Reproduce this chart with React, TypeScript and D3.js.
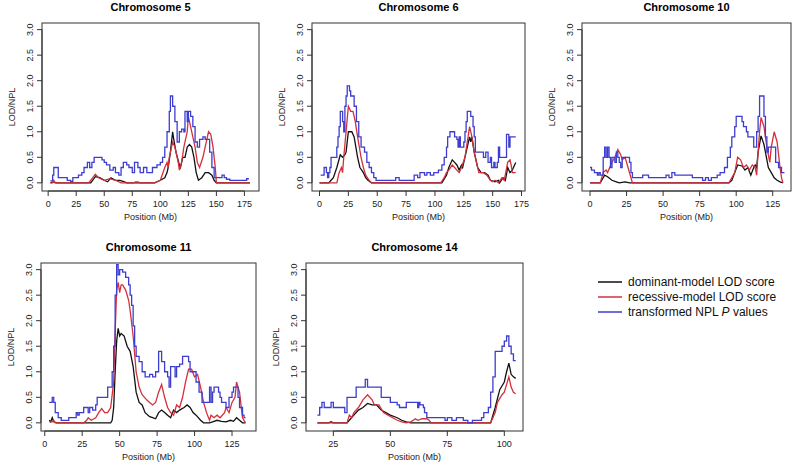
import React from "react";
import * as d3 from "d3";

type Pt = [number, number];

// ---------- Chromosome 5 ----------
const chr5Dominant: Pt[] = [[2,0],[5,0.02],[7,0],[38,0],[42,0.12],[46,0.1],[50,0.05],[53,0.02],[56,0.1],[60,0.05],[64,0.05],[68,0.02],[70,0],[95,0],[100,0.05],[104,0.1],[106,0.2],[107,0.3],[109,0.6],[111,1.0],[112,0.85],[114,0.6],[117,0.35],[118,0.3],[120,0.5],[122,0.5],[124,0.7],[126,0.75],[128,0.7],[130,0.5],[132,0.2],[134,0.05],[137,0.1],[140,0.2],[143,0.2],[146,0.15],[148,0.05],[150,0],[180,0]];
const chr5Recessive: Pt[] = [[2,0],[4,0],[5,0.05],[6,0],[36,0],[38,0.05],[42,0.17],[45,0.1],[50,0.05],[55,0.08],[60,0.05],[65,0],[76,0],[78,0.02],[80,0.02],[82,0],[95,0],[100,0.05],[104,0.3],[106,0.4],[107,0.3],[108,0.5],[110,0.7],[111,0.8],[113,0.7],[116,0.4],[117,0.25],[119,0.4],[121,0.7],[122,0.8],[124,1.0],[125,1.3],[127,1.1],[129,0.9],[131,0.7],[133,0.4],[135,0.3],[138,0.5],[141,0.8],[143,1.0],[145,0.95],[147,0.7],[149,0.3],[150,0],[180,0]];
const chr5Npl: Pt[] = [[2,0.04],[4,0.15],[5,0.3],[9,0.1],[17,0.05],[20,0.03],[22,0.1],[27,0.15],[30,0.2],[32,0.3],[35,0.4],[37,0.3],[39,0.4],[41,0.5],[48,0.45],[50,0.4],[52,0.35],[55,0.25],[58,0.3],[60,0.2],[63,0.15],[65,0.3],[67,0.4],[70,0.35],[72,0.3],[75,0.2],[77,0.4],[80,0.3],[82,0.2],[85,0.3],[88,0.2],[93,0.3],[97,0.35],[100,0.4],[102,0.5],[104,0.7],[106,1.0],[108,1.4],[109,1.7],[111,1.5],[113,1.2],[115,0.8],[117,1.0],[119,1.05],[121,1.0],[122,1.4],[124,1.2],[125,1.4],[127,1.3],[129,1.1],[131,0.8],[133,0.7],[135,0.85],[138,0.9],[140,0.85],[144,0.6],[146,0.3],[148,0.1],[155,0.15],[157,0.1],[159,0.07],[162,0.05],[177,0.08],[179,0.08]];

// ---------- Chromosome 6 ----------
const chr6Dominant: Pt[] = [[0,0],[8,0],[10,0.05],[12,0.1],[15,0.3],[18,0.55],[20,0.5],[22,0.55],[23,0.6],[25,1.0],[28,1.0],[30,0.9],[33,0.5],[35,0.3],[38,0.2],[40,0.1],[42,0.05],[45,0],[106,0],[110,0.15],[112,0.3],[115,0.45],[117,0.4],[119,0.35],[121,0.25],[123,0.35],[124,0.3],[127,0.6],[130,0.9],[131,0.8],[132,0.9],[134,0.6],[137,0.3],[140,0.2],[143,0.2],[146,0.15],[148,0.05],[152,0.02],[155,0.05],[156,0],[159,0.1],[161,0.05],[163,0.3],[165,0.2],[167,0.25],[169,0.35],[170,0.4]];
const chr6Recessive: Pt[] = [[0,0],[15,0],[17,0.2],[19,0.3],[20,0.2],[21,0.5],[23,1.0],[25,1.5],[27,1.4],[29,1.4],[31,1.2],[33,0.9],[36,0.5],[38,0.3],[40,0.15],[43,0.05],[45,0],[105,0],[108,0.1],[110,0.2],[112,0.25],[115,0.35],[117,0.3],[119,0.25],[121,0.2],[123,0.3],[126,0.5],[128,0.8],[130,1.1],[132,0.9],[134,0.6],[136,0.4],[138,0.2],[142,0.2],[145,0.15],[148,0.05],[150,0.02],[152,0.05],[155,0],[158,0.1],[160,0.05],[163,0.4],[165,0.45],[166,0.35],[167,0.2],[170,0.2]];
const chr6Npl: Pt[] = [[1,0.15],[4,0.3],[6,0.2],[7,0.1],[8,0.2],[9,0.3],[10,0.5],[15,0.7],[16,0.9],[17,1.1],[18,1.4],[20,1.2],[21,1.0],[22,1.5],[23,1.7],[24,1.9],[26,1.8],[27,1.7],[30,1.5],[32,1.2],[34,0.9],[36,0.7],[39,0.6],[41,0.4],[43,0.3],[45,0.2],[47,0.1],[49,0.05],[66,0.1],[69,0.05],[82,0.15],[85,0.1],[87,0.2],[91,0.15],[93,0.2],[96,0.15],[99,0.2],[103,0.25],[106,0.35],[108,0.5],[110,0.7],[111,0.9],[113,1.0],[117,0.9],[119,0.85],[120,0.7],[121,0.9],[122,0.7],[125,0.8],[126,1.0],[127,1.2],[128,1.4],[131,1.3],[133,1.1],[134,0.9],[135,0.6],[142,0.5],[144,0.6],[146,0.4],[148,0.5],[149,0.3],[151,0.4],[152,0.3],[154,0.4],[155,0.7],[156,0.5],[162,0.95],[164,0.7],[165,0.9],[170,0.9]];

// ---------- Chromosome 10 ----------
const chr10Dominant: Pt[] = [[0,0],[7,0],[9,0.1],[10,0.15],[12,0.12],[15,0.05],[18,0.02],[20,0],[24,0.02],[27,0],[95,0],[97,0.05],[99,0.2],[101,0.35],[104,0.33],[106,0.25],[108,0.3],[110,0.15],[112,0.3],[113,0.35],[114,0.3],[115,0.6],[117,0.92],[119,0.75],[120,0.6],[122,0.3],[124,0.2],[126,0.1],[128,0.05],[130,0.02],[132,0]];
const chr10Recessive: Pt[] = [[0,0],[7,0],[9,0.2],[11,0.25],[12,0.2],[15,0.4],[17,0.5],[19,0.65],[21,0.55],[22,0.45],[24,0.5],[26,0.3],[28,0.1],[29,0],[95,0],[97,0.1],[99,0.2],[101,0.5],[103,0.45],[105,0.3],[107,0.35],[109,0.25],[111,0.35],[113,0.3],[114,0.15],[115,0.6],[116,1.0],[117,1.28],[119,1.1],[121,0.7],[123,0.4],[124,0.7],[126,1.0],[128,0.8],[130,0.3],[131,0.1],[132,0]];
const chr10Npl: Pt[] = [[0,0.3],[1,0.25],[3,0.2],[5,0.15],[6,0.2],[7,0.15],[9,0.5],[10,0.7],[11,0.5],[12,0.7],[13,0.5],[14,0.3],[15,0.5],[17,0.4],[18,0.6],[19,0.5],[20,0.4],[21,0.3],[22,0.5],[27,0.4],[28,0.2],[29,0.1],[36,0.15],[40,0.1],[52,0.15],[54,0.1],[56,0.2],[58,0.15],[70,0.1],[77,0.05],[79,0.1],[81,0.05],[83,0.1],[87,0.15],[89,0.2],[92,0.3],[94,0.5],[96,0.7],[97,0.9],[99,1.1],[100,1.3],[104,1.2],[105,1.1],[107,1.0],[108,0.9],[112,0.7],[114,1.0],[115,1.3],[116,1.7],[119,1.3],[120,0.9],[121,0.6],[122,0.7],[127,0.4],[129,0.3],[131,0.2],[133,0.2]];

// ---------- Chromosome 11 ----------
const chr11Dominant: Pt[] = [[3,0.05],[4,0.02],[5,0.1],[6,0.02],[8,0],[44,0],[45,0.05],[46,0.3],[47,1.0],[48,1.6],[49,1.85],[50,1.7],[51,1.75],[53,1.7],[55,1.5],[57,1.4],[59,1.1],[61,0.6],[63,0.4],[65,0.35],[67,0.2],[70,0.12],[72,0.1],[74,0.08],[76,0.2],[78,0.25],[80,0.2],[82,0.15],[84,0.1],[86,0.25],[88,0.2],[90,0.25],[93,0.3],[95,0.35],[97,0.3],[99,0.2],[101,0.15],[104,0.05],[106,0],[110,0],[112,0.02],[115,0.05],[118,0.03],[121,0.02],[124,0.05],[126,0.03],[128,0.1],[130,0.05],[132,0],[134,0]];
const chr11Recessive: Pt[] = [[3,0.02],[5,0.02],[6,0.05],[7,0],[26,0],[28,0.05],[29,0.1],[31,0.05],[34,0.1],[36,0.2],[38,0.28],[40,0.2],[42,0.2],[44,0.3],[46,0.8],[47,1.8],[48,2.6],[49,2.75],[50,2.55],[51,2.7],[52,2.7],[54,2.6],[56,2.4],[57,2.2],[59,1.7],[61,1.0],[63,0.7],[65,0.55],[68,0.45],[70,0.4],[72,0.35],[74,0.4],[76,0.6],[78,0.75],[80,0.5],[82,0.3],[84,0.2],[86,0.15],[88,0.35],[90,0.3],[92,0.5],[94,0.8],[96,1.05],[98,1.05],[100,0.9],[102,0.95],[104,0.7],[106,0.4],[108,0.2],[110,0.05],[111,0.15],[113,0.1],[115,0.15],[117,0.1],[120,0.2],[121,0.3],[123,0.2],[125,0.4],[127,0.5],[128,0.8],[130,0.6],[132,0.1],[134,0]];
const chr11Npl: Pt[] = [[3,0.4],[5,0.5],[6,0.4],[7,0.2],[9,0.1],[11,0.05],[16,0.1],[21,0.2],[22,0.15],[23,0.2],[26,0.3],[29,0.2],[30,0.3],[32,0.25],[34,0.35],[35,0.5],[42,0.7],[45,1.0],[46,1.5],[47,2.5],[48,3.1],[49,2.9],[50,3.0],[52,2.95],[54,2.85],[56,2.7],[57,2.5],[58,2.3],[59,1.9],[60,1.5],[61,1.3],[63,1.2],[65,1.0],[67,0.9],[70,0.95],[72,0.9],[74,1.0],[76,1.4],[78,1.2],[80,1.0],[82,0.9],[83,0.7],[84,1.1],[87,0.9],[88,1.1],[90,1.15],[92,1.3],[96,1.2],[97,1.0],[101,0.8],[103,0.6],[105,0.4],[110,0.7],[111,0.4],[112,0.6],[113,0.7],[116,0.6],[117,0.5],[118,0.4],[121,0.3],[123,0.5],[125,0.6],[126,0.7],[129,0.5],[130,0.3],[132,0.15],[133,0.1],[134,0.1]];

// ---------- Chromosome 14 ----------
const chr14Dominant: Pt[] = [[18,0],[23,0],[24,0.02],[25,0],[31,0],[32,0.05],[34,0.15],[36,0.25],[38,0.3],[40,0.38],[42,0.35],[44,0.35],[46,0.25],[48,0.2],[50,0.15],[53,0.1],[55,0.05],[57,0.02],[59,0],[94,0],[96,0.3],[98,0.65],[100,0.8],[101,1.0],[102,1.17],[103,0.95],[104,0.9],[105,0.87]];
const chr14Recessive: Pt[] = [[18,0],[31,0],[32,0.15],[33,0.1],[34,0.2],[36,0.3],[38,0.45],[40,0.55],[42,0.45],[43,0.35],[45,0.35],[47,0.2],[49,0.15],[51,0.1],[53,0.05],[55,0.02],[57,0],[59,0.02],[61,0.08],[62,0.05],[64,0.08],[66,0.08],[67,0.05],[68,0],[94,0],[96,0.2],[97,0.4],[99,0.55],[100,0.6],[102,0.9],[103,0.7],[104,0.6],[105,0.57]];
const chr14Npl: Pt[] = [[18,0.15],[19,0.3],[20,0.4],[21,0.3],[24,0.4],[25,0.3],[30,0.2],[31,0.5],[35,0.7],[39,0.85],[40,0.7],[46,0.5],[50,0.4],[53,0.35],[54,0.3],[57,0.4],[62,0.3],[62.5,0.4],[63,0.35],[64.5,0.3],[65,0.2],[66,0.1],[74,0.05],[75,0.1],[77,0.05],[79,0.1],[82,0.05],[84,0],[86,0.05],[90,0.1],[91,0.2],[93,0.3],[94,0.6],[95,0.9],[96,1.4],[99,1.5],[100,1.6],[101,1.7],[102,1.5],[103,1.35],[104,1.22],[105,1.22]];

// ---------- axes / labels ----------
const yTicks = [0, 0.5, 1, 1.5, 2, 2.5, 3];
const xTicksLong = [0, 25, 50, 75, 100, 125, 150, 175];
const xTicksMid = [0, 25, 50, 75, 100, 125];
const xTicksShort = [25, 50, 75, 100];
const panelTitles = ["Chromosome 5", "Chromosome 6", "Chromosome 10", "Chromosome 11", "Chromosome 14"];
const legendLabels = ["dominant-model LOD score", "recessive-model LOD score", "transformed NPL "];

const COLORS = { dom: "#111111", rec: "#d3303c", npl: "#3d3dd0" };
const FONT = "Liberation Sans, Arial, Helvetica, sans-serif";

interface Panel {
  title: string; x0: number; x1: number; y0: number; y1: number;
  xDomain: [number, number]; xTicks: number[];
  dom: Pt[]; rec: Pt[]; npl: Pt[]; showXLabel: boolean;
}

const panels: Panel[] = [
  { title: panelTitles[0], x0: 42, x1: 259, y0: 23, y1: 191, xDomain: [-5.5, 188], xTicks: xTicksLong, dom: chr5Dominant, rec: chr5Recessive, npl: chr5Npl, showXLabel: true },
  { title: panelTitles[1], x0: 312, x1: 525, y0: 23, y1: 191, xDomain: [-6.5, 178], xTicks: xTicksLong, dom: chr6Dominant, rec: chr6Recessive, npl: chr6Npl, showXLabel: true },
  { title: panelTitles[2], x0: 582, x1: 791, y0: 23, y1: 191, xDomain: [-5.5, 137.5], xTicks: xTicksMid, dom: chr10Dominant, rec: chr10Recessive, npl: chr10Npl, showXLabel: true },
  { title: panelTitles[3], x0: 41, x1: 256, y0: 263, y1: 431, xDomain: [-2.5, 141], xTicks: xTicksMid, dom: chr11Dominant, rec: chr11Recessive, npl: chr11Npl, showXLabel: true },
  { title: panelTitles[4], x0: 306, x1: 523, y0: 263, y1: 431, xDomain: [13, 108.2], xTicks: xTicksShort, dom: chr14Dominant, rec: chr14Recessive, npl: chr14Npl, showXLabel: true },
];

const yDomain: [number, number] = [-0.16, 3.13];

function PanelView({ p }: { p: Panel }) {
  const x = d3.scaleLinear().domain(p.xDomain).range([p.x0, p.x1]);
  const y = d3.scaleLinear().domain(yDomain).range([p.y1, p.y0]);
  const smooth = d3.line<Pt>().x(d => x(d[0])).y(d => y(d[1])).curve(d3.curveLinear);
  const step = d3.line<Pt>().x(d => x(d[0])).y(d => y(d[1])).curve(d3.curveStepAfter);
  const cx = (p.x0 + p.x1) / 2;
  const cy = (p.y0 + p.y1) / 2;
  const fmt = d3.format(".1f");
  return (
    <g>
      <text x={cx} y={p.y0 - 12} textAnchor="middle" fontFamily={FONT} fontWeight="bold" fontSize={11}>{p.title}</text>
      <rect x={p.x0} y={p.y0} width={p.x1 - p.x0} height={p.y1 - p.y0} fill="none" stroke="#333" strokeWidth={1} />
      {/* y axis */}
      <line x1={p.x0} x2={p.x0} y1={y(yTicks[0])} y2={y(yTicks[yTicks.length - 1])} stroke="#333" />
      {yTicks.map(t => (
        <g key={"y" + t}>
          <line x1={p.x0 - 5} x2={p.x0} y1={y(t)} y2={y(t)} stroke="#333" />
          <text transform={`translate(${p.x0 - 9},${y(t)}) rotate(-90)`} textAnchor="middle" fontFamily={FONT} fontSize={9} fill="#222">{fmt(t)}</text>
        </g>
      ))}
      <text transform={`translate(${p.x0 - 27},${cy}) rotate(-90)`} textAnchor="middle" fontFamily={FONT} fontSize={9} fill="#222">LOD/NPL</text>
      {/* x axis */}
      <line x1={x(p.xTicks[0])} x2={x(p.xTicks[p.xTicks.length - 1])} y1={p.y1} y2={p.y1} stroke="#333" />
      {p.xTicks.map(t => (
        <g key={"x" + t}>
          <line x1={x(t)} x2={x(t)} y1={p.y1} y2={p.y1 + 5} stroke="#333" />
          <text x={x(t)} y={p.y1 + 13} dominantBaseline="central" textAnchor="middle" fontFamily={FONT} fontSize={9} fill="#222">{t}</text>
        </g>
      ))}
      {p.showXLabel && (
        <text x={cx} y={p.y1 + 26} dominantBaseline="central" textAnchor="middle" fontFamily={FONT} fontSize={9} fill="#222">Position (Mb)</text>
      )}
      <path d={smooth(p.dom) ?? ""} fill="none" stroke={COLORS.dom} strokeWidth={1.3} />
      <path d={smooth(p.rec) ?? ""} fill="none" stroke={COLORS.rec} strokeWidth={1.3} />
      <path d={step(p.npl) ?? ""} fill="none" stroke={COLORS.npl} strokeWidth={1.3} />
    </g>
  );
}

export default function App() {
  const legendColors = [COLORS.dom, COLORS.rec, COLORS.npl];
  return (
    <svg width={800} height={464} style={{ position: "absolute", left: 0, top: 0, background: "#fff" }}>
      <rect width={800} height={464} fill="#fff" />
      {panels.map(p => <PanelView key={p.title} p={p} />)}
      {legendLabels.map((lab, i) => (
        <g key={lab}>
          <line x1={598} x2={622} y1={282 + i * 15} y2={282 + i * 15} stroke={legendColors[i]} strokeWidth={1.5} />
          <text x={628} y={282 + i * 15} dominantBaseline="central" fontFamily={FONT} fontSize={12} fill="#111">
            {lab}
            {i === 2 && <tspan fontStyle="italic">P</tspan>}
            {i === 2 && <tspan> values</tspan>}
          </text>
        </g>
      ))}
    </svg>
  );
}
